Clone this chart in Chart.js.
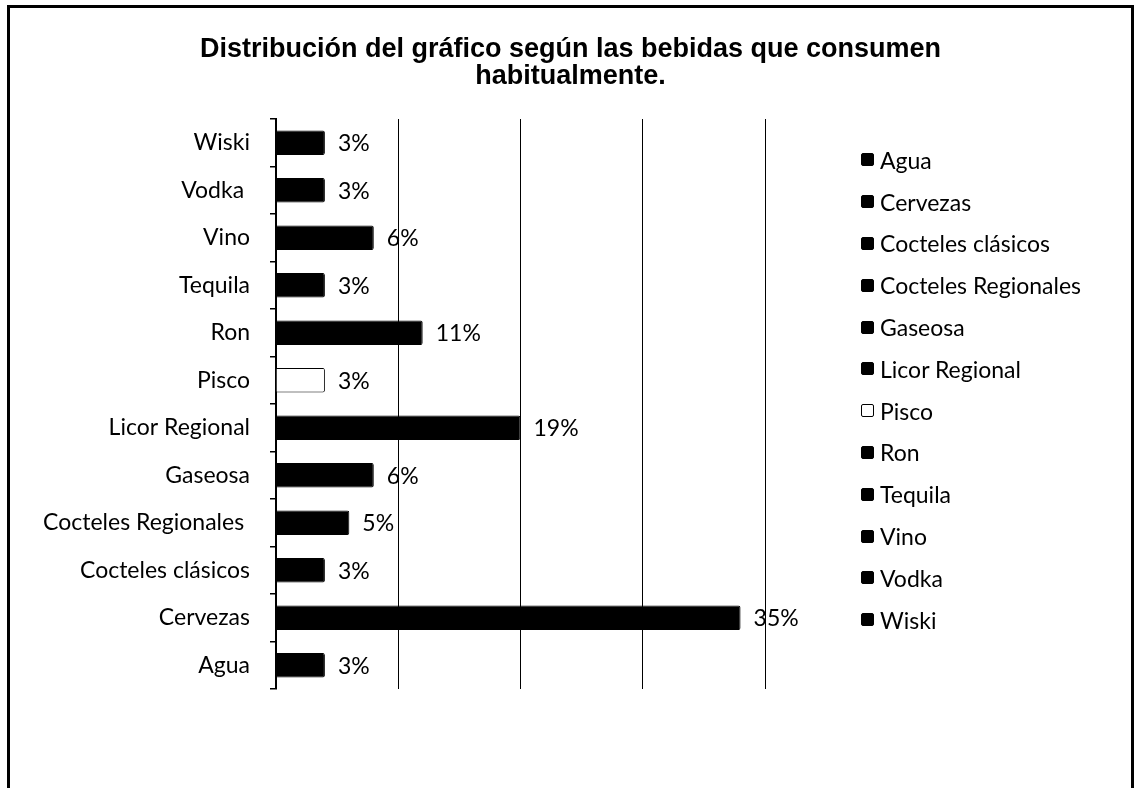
<!DOCTYPE html>
<html>
<head>
<meta charset="utf-8">
<script src="https://cdn.jsdelivr.net/npm/chart.js@4"></script>
<style>
  html, body { margin: 0; padding: 0; background: #fff; overflow: hidden; }
  #wrap { position: relative; width: 1141px; height: 788px; }
  #chart { position: absolute; left: 0; top: 0; }
  #marco {
    position: absolute; left: 7px; top: 5px; width: 1127px; height: 900px;
    box-sizing: border-box; border: 3px solid #000; pointer-events: none;
  }
  #leyenda {
    position: absolute; left: 861px; top: 139px; margin: 0; padding: 0;
    list-style: none; font: 23px Lato, sans-serif; color: #000;
  }
  #leyenda li { height: 41.8px; display: flex; align-items: center; white-space: nowrap; }
  #leyenda .caja {
    width: 13px; height: 13px; box-sizing: border-box; border: 1px solid #000;
    border-radius: 2px; margin-right: 6px; flex: none;
  }
</style>
</head>
<body>
<div id="wrap">
  <canvas id="chart" width="1141" height="788"></canvas>
  <ul id="leyenda"></ul>
  <div id="marco"></div>
</div>
<script>
// Datos del gráfico (de abajo hacia arriba)
const bebidas = ['Agua', 'Cervezas', 'Cocteles clásicos', 'Cocteles Regionales ', 'Gaseosa',
    'Licor Regional', 'Pisco', 'Ron', 'Tequila', 'Vino', 'Vodka ', 'Wiski'];
const cantidades = [2, 19, 2, 3, 4, 10, 2, 6, 2, 4, 2, 2];
const porcentajes = ['3%', '35%', '3%', '5%', '6%', '19%', '3%', '11%', '3%', '6%', '3%', '3%'];
const colores = ['#000', '#000', '#000', '#000', '#000', '#000', '#fff', '#000', '#000', '#000', '#000', '#000'];

const titulo = ['Distribución del gráfico según las bebidas que consumen', 'habitualmente.'];

// Etiquetas de porcentaje al final de cada barra
const etiquetasBarras = {
    id: 'etiquetasBarras',
    afterDatasetsDraw(chart) {
        const ctx = chart.ctx;
        const meta = chart.getDatasetMeta(0);
        ctx.save();
        ctx.font = '23px Lato';
        ctx.fillStyle = '#000';
        ctx.textAlign = 'left';
        ctx.textBaseline = 'middle';
        meta.data.forEach((bar, i) => {
            ctx.fillText(porcentajes[i], bar.x + 13, bar.y + 1);
        });
        ctx.restore();
    }
};

// Leyenda en HTML (una entrada por bebida)
const leyendaHtml = {
    id: 'leyendaHtml',
    afterUpdate(chart) {
        const ul = document.getElementById('leyenda');
        ul.innerHTML = '';
        chart.data.labels.forEach((l, i) => {
            const li = document.createElement('li');
            const caja = document.createElement('span');
            caja.className = 'caja';
            caja.style.background = colores[i];
            li.appendChild(caja);
            li.appendChild(document.createTextNode(l.trim()));
            ul.appendChild(li);
        });
    }
};

const ctx = document.getElementById('chart').getContext('2d');
const chart = new Chart(ctx, {
    type: 'bar',
    data: {
        labels: bebidas,
        datasets: [{
            data: cantidades,
            backgroundColor: colores,
            borderColor: '#000',
            borderWidth: 1,
            borderRadius: 2,
            barPercentage: 0.52,
            categoryPercentage: 1
        }]
    },
    options: {
        indexAxis: 'y',
        responsive: false,
        animation: false,
        layout: { padding: { top: 0, bottom: 99, left: 40, right: 40 } },
        scales: {
            x: {
                min: 0,
                max: 20,
                ticks: { display: false, stepSize: 5 },
                grid: { color: '#000', lineWidth: 1, drawTicks: false },
                border: { display: false },
                afterFit: s => { s.height = 0; }
            },
            y: {
                reverse: true,
                ticks: {
                    color: '#000',
                    padding: 20,
                    font: { family: 'Lato', size: 23 }
                },
                grid: { drawOnChartArea: false, drawTicks: true, tickLength: 6, color: '#000', lineWidth: 1.5 },
                border: { display: true, color: '#000', width: 2 },
                afterFit: s => { s.width = 236; }
            },
            // espacio vacío a la derecha reservado para la leyenda
            hueco: {
                axis: 'y',
                type: 'linear',
                position: 'right',
                display: true,
                grid: { display: false },
                ticks: { display: false },
                border: { display: false },
                afterFit: s => { s.width = 336; }
            }
        },
        plugins: {
            title: {
                display: true,
                text: titulo,
                color: '#000',
                font: { family: 'Liberation Sans', size: 27, weight: 'bold', lineHeight: 1.0 },
                padding: { top: 36, bottom: 29 }
            },
            legend: { display: false },
            tooltip: { enabled: false }
        }
    },
    plugins: [etiquetasBarras, leyendaHtml]
});
</script>
</body>
</html>
